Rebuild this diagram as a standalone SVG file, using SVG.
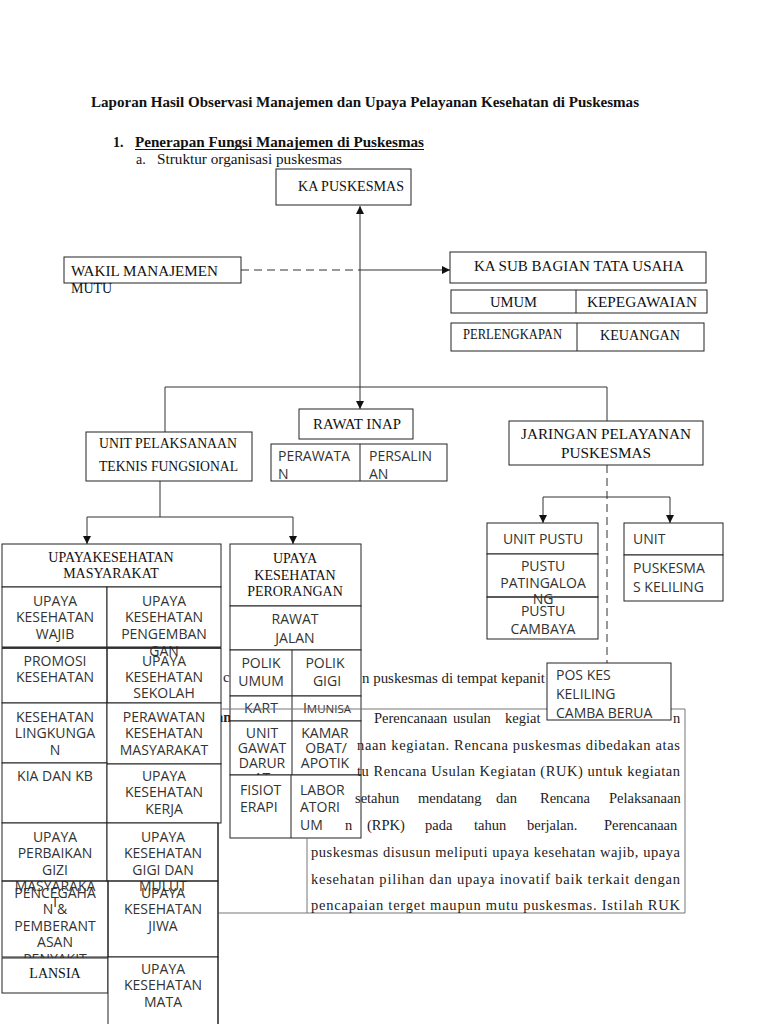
<svg xmlns="http://www.w3.org/2000/svg" width="768" height="1024" viewBox="0 0 768 1024">
<defs>
<marker id="ar" viewBox="0 0 10 10" refX="10" refY="5" markerWidth="8" markerHeight="8" orient="auto" markerUnits="userSpaceOnUse"><path d="M0,0 L10,5 L0,10 z" fill="#111"/></marker>
<style>
.b{fill:#fff;stroke:#222;stroke-width:1}
.o{fill:none;stroke:#222;stroke-width:1}
.d{stroke:#222;stroke-width:1}
.s{font-family:"Liberation Serif","Times New Roman",serif;fill:#111;font-size:14px}
.a{font-family:"Open Sans","Noto Sans",sans-serif;fill:#333;font-size:14px}
.m{text-anchor:middle}
.p{font-family:"Liberation Serif","Times New Roman",serif;fill:#222;font-size:14.5px}
.cn{fill:none;stroke:#333;stroke-width:1}
</style>
</defs>
<rect width="768" height="1024" fill="#fff"/>

<g id="heading">
<text class="s" x="91" y="107" font-weight="bold" font-size="15" textLength="548" lengthAdjust="spacingAndGlyphs">Laporan Hasil Observasi Manajemen dan Upaya Pelayanan Kesehatan di Puskesmas</text>
<text class="s" x="113" y="147" font-weight="bold">1.</text>
<text class="s" x="135" y="147" font-weight="bold" textLength="289" lengthAdjust="spacingAndGlyphs">Penerapan Fungsi Manajemen di Puskesmas</text>
<line x1="135" y1="149.5" x2="424" y2="149.5" stroke="#111" stroke-width="1"/>
<text class="s" x="136" y="164" font-size="13">a.</text>
<text class="s" x="157" y="164" font-size="13" textLength="185" lengthAdjust="spacingAndGlyphs">Struktur organisasi puskesmas</text>
</g>

<g id="connectors">
<line class="cn" x1="360" y1="300" x2="360" y2="206" marker-end="url(#ar)"/>
<line class="cn" x1="360" y1="300" x2="360" y2="409" marker-end="url(#ar)"/>
<line class="cn" x1="241" y1="270" x2="360" y2="270" stroke-dasharray="8,5"/>
<line class="cn" x1="360" y1="270" x2="450" y2="270" marker-end="url(#ar)"/>
<path class="cn" d="M165,432 V387 H607 V421"/>
<path class="cn" d="M160,481 V517"/>
<path class="cn" d="M160,517 H87 V544" marker-end="url(#ar)"/>
<path class="cn" d="M160,517 H293 V544" marker-end="url(#ar)"/>
<line class="cn" x1="607" y1="465" x2="607" y2="663" stroke-dasharray="8,5"/>
<path class="cn" d="M607,497 H543 V523" marker-end="url(#ar)"/>
<path class="cn" d="M607,497 H670 V523" marker-end="url(#ar)"/>
</g>

<g id="ka-puskesmas">
<rect class="b" x="276" y="169" width="135" height="36"/>
<text class="s" x="298" y="191" textLength="106" lengthAdjust="spacingAndGlyphs">KA  PUSKESMAS</text>
</g>
<g id="wakil">
<rect class="b" x="64" y="257" width="177" height="26"/>
<text class="s" x="71" y="276" textLength="147" lengthAdjust="spacingAndGlyphs">WAKIL MANAJEMEN</text>
<text class="s" x="71" y="293">MUTU</text>
</g>
<g id="ka-sub">
<rect class="b" x="450" y="252" width="256" height="31"/>
<text class="s" x="474" y="271" textLength="210" lengthAdjust="spacingAndGlyphs">KA SUB BAGIAN TATA USAHA</text>
</g>
<g id="umum">
<rect class="b" x="451" y="290" width="256" height="23"/>
<line class="d" x1="576" y1="290" x2="576" y2="313"/>
<text class="s" x="490" y="307" textLength="47" lengthAdjust="spacingAndGlyphs">UMUM</text>
<text class="s" x="587" y="307" textLength="110" lengthAdjust="spacingAndGlyphs">KEPEGAWAIAN</text>
</g>
<g id="perlengkapan">
<rect class="b" x="451" y="323" width="253" height="28"/>
<line class="d" x1="577" y1="323" x2="577" y2="351"/>
<text class="s" x="463" y="339" font-size="12" textLength="99" lengthAdjust="spacingAndGlyphs">PERLENGKAPAN</text>
<text class="s" x="600" y="340" textLength="80" lengthAdjust="spacingAndGlyphs">KEUANGAN</text>
</g>

<g id="rawat-inap">
<rect class="b" x="299" y="409" width="114" height="30"/>
<text class="s" x="313" y="429" textLength="88" lengthAdjust="spacingAndGlyphs">RAWAT INAP</text>
</g>
<g id="perawatan">
<rect class="b" x="271" y="444" width="176" height="37"/>
<line class="d" x1="360" y1="444" x2="360" y2="481"/>
<text class="a" x="278" y="461" font-size="13">PERAWATA</text>
<text class="a" x="278" y="479" font-size="13">N</text>
<text class="a" x="369" y="461" font-size="13">PERSALIN</text>
<text class="a" x="369" y="479" font-size="13">AN</text>
</g>
<g id="unit-pelaksanaan">
<rect class="b" x="86" y="432" width="166" height="49"/>
<text class="s" x="99" y="448" textLength="138" lengthAdjust="spacingAndGlyphs">UNIT PELAKSANAAN</text>
<text class="s" x="99" y="471" textLength="139" lengthAdjust="spacingAndGlyphs">TEKNIS FUNGSIONAL</text>
</g>
<g id="jaringan">
<rect class="b" x="509" y="421" width="194" height="44"/>
<text class="s" x="521" y="439" textLength="170" lengthAdjust="spacingAndGlyphs">JARINGAN PELAYANAN</text>
<text class="s" x="561" y="458" textLength="90" lengthAdjust="spacingAndGlyphs">PUSKESMAS</text>
</g>

<g id="fragments">
<text class="p" x="223" y="682" fill="#555">c</text>
<text class="p" x="216" y="722" font-weight="bold">an</text>
</g>

<g id="ukm">
<rect class="b" x="2" y="544" width="219" height="43"/>
<text class="s m" x="111" y="562" font-size="13.5">UPAYAKESEHATAN</text>
<text class="s m" x="111" y="578" font-size="13.5">MASYARAKAT</text>
</g>
<g id="ukm-wajib">
<rect class="b" x="2" y="587" width="105" height="60"/>
<text class="a m" x="55" y="606">UPAYA</text><text class="a m" x="55" y="622">KESEHATAN</text><text class="a m" x="55" y="639">WAJIB</text>
</g>
<g id="ukm-pengembangan">
<rect class="b" x="107" y="587" width="114" height="60"/>
<text class="a m" x="164" y="606">UPAYA</text><text class="a m" x="164" y="622">KESEHATAN</text><text class="a m" x="164" y="639">PENGEMBAN</text><text class="a m" x="164" y="656">GAN</text>
</g>
<g id="promosi">
<rect class="b" x="2" y="648" width="105" height="55"/>
<text class="a m" x="55" y="666">PROMOSI</text><text class="a m" x="55" y="682">KESEHATAN</text>
</g>
<g id="sekolah">
<rect class="o" x="107" y="648" width="114" height="55"/>
<line x1="2" y1="648" x2="221" y2="648" stroke="#222" stroke-width="1.5"/>
<text class="a m" x="164" y="666">UPAYA</text><text class="a m" x="164" y="682">KESEHATAN</text><text class="a m" x="164" y="698">SEKOLAH</text>
</g>
<g id="lingkungan">
<rect class="b" x="2" y="703" width="105" height="60"/>
<text class="a m" x="55" y="722">KESEHATAN</text><text class="a m" x="55" y="738">LINGKUNGA</text><text class="a m" x="55" y="755">N</text>
</g>
<g id="perkesmas">
<rect class="b" x="107" y="703" width="114" height="61"/>
<text class="a m" x="164" y="722">PERAWATAN</text><text class="a m" x="164" y="738">KESEHATAN</text><text class="a m" x="164" y="755">MASYARAKAT</text>
</g>
<g id="kia">
<rect class="b" x="2" y="763" width="105" height="60"/>
<text class="a m" x="55" y="781">KIA DAN KB</text>
</g>
<g id="kerja">
<rect class="b" x="107" y="764" width="114" height="59"/>
<text class="a m" x="164" y="781">UPAYA</text><text class="a m" x="164" y="797">KESEHATAN</text><text class="a m" x="164" y="814">KERJA</text>
</g>
<g id="gizi">
<rect class="b" x="2" y="823" width="105" height="58"/>
<text class="a m" x="55" y="842">UPAYA</text><text class="a m" x="55" y="858">PERBAIKAN</text><text class="a m" x="55" y="875">GIZI</text><text class="a m" x="55" y="891">MASYARAKA</text><text class="a m" x="55" y="907">T</text>
</g>
<g id="gigi">
<rect class="b" x="107" y="823" width="111" height="58"/>
<text class="a m" x="163" y="842">UPAYA</text><text class="a m" x="163" y="858">KESEHATAN</text><text class="a m" x="163" y="875">GIGI DAN</text><text class="a m" x="163" y="891">MULUT</text>
</g>
<g id="pencegahan">
<rect class="o" x="2" y="881" width="106" height="76"/>
<text class="a m" x="55" y="898">PENCEGAHA</text><text class="a m" x="55" y="914">N &amp;</text><text class="a m" x="55" y="931">PEMBERANT</text><text class="a m" x="55" y="947">ASAN</text><text class="a m" x="55" y="964">PENYAKIT</text>
</g>
<g id="jiwa">
<rect class="o" x="108" y="881" width="110" height="76"/>
<text class="a m" x="163" y="898">UPAYA</text><text class="a m" x="163" y="914">KESEHATAN</text><text class="a m" x="163" y="931">JIWA</text>
</g>
<g id="lansia">
<rect class="b" x="2" y="958" width="106" height="35"/>
<text class="s m" x="55" y="978" font-size="15">LANSIA</text>
</g>
<g id="mata">
<rect class="b" x="108" y="957" width="110" height="80"/>
<text class="a m" x="163" y="974">UPAYA</text><text class="a m" x="163" y="990">KESEHATAN</text><text class="a m" x="163" y="1007">MATA</text>
</g>

<g id="ukp">
<rect class="b" x="230" y="544" width="131" height="62"/>
<text class="s m" x="295" y="563">UPAYA</text><text class="s m" x="295" y="580">KESEHATAN</text><text class="s m" x="295" y="596">PERORANGAN</text>
</g>
<g id="rawat-jalan">
<rect class="b" x="230" y="606" width="131" height="44"/>
<text class="a m" x="295" y="624" font-size="15">RAWAT</text><text class="a m" x="295" y="643" font-size="15">JALAN</text>
</g>
<g id="polik">
<rect class="b" x="230" y="650" width="131" height="46"/>
<line class="d" x1="292" y1="650" x2="292" y2="696"/>
<text class="a m" x="261" y="668">POLIK</text><text class="a m" x="261" y="686">UMUM</text>
<text class="a m" x="325" y="668">POLIK</text><text class="a m" x="327" y="686">GIGI</text>
</g>
<g id="kart">
<rect class="b" x="230" y="696" width="131" height="25"/>
<line class="d" x1="292" y1="696" x2="292" y2="721"/>
<text class="a m" x="261" y="713">KART</text>
<text class="a m" x="327" y="713"><tspan>I</tspan><tspan font-size="11.5">MUNISA</tspan></text>
</g>
<g id="ugd">
<rect class="b" x="230" y="721" width="131" height="54"/>
<line class="d" x1="292" y1="721" x2="292" y2="775"/>
<text class="a m" x="262" y="738" font-size="12.5">UNIT</text><text class="a m" x="262" y="753" font-size="12.5">GAWAT</text><text class="a m" x="262" y="768" font-size="12.5">DARUR</text><text class="a m" x="262" y="783" font-size="12.5">AT</text>
<text class="a m" x="325" y="738" font-size="12.5">KAMAR</text><text class="a m" x="326" y="753" font-size="12.5">OBAT/</text><text class="a m" x="325" y="768" font-size="12.5">APOTIK</text>
</g>
<g id="fisio">
<rect class="b" x="230" y="775" width="131" height="63"/>
<line class="d" x1="291" y1="775" x2="291" y2="838"/>
<text class="a" x="240" y="795">FISIOT</text><text class="a" x="240" y="812">ERAPI</text>
<text class="a" x="300" y="795">LABOR</text><text class="a" x="300" y="812">ATORI</text><text class="a" x="300" y="830">UM</text>
</g>

<g id="paragraph">
<line x1="221" y1="709" x2="685" y2="709" stroke="#777" stroke-width="1"/>
<line x1="685" y1="709" x2="685" y2="913" stroke="#777" stroke-width="1"/>
<line x1="218" y1="913" x2="685" y2="913" stroke="#777" stroke-width="1"/>
<line x1="307" y1="838" x2="307" y2="913" stroke="#777" stroke-width="1"/>
<line x1="218" y1="823" x2="218" y2="1024" stroke="#222" stroke-width="1"/>
<text class="p" x="362" y="683" textLength="183" lengthAdjust="spacingAndGlyphs">n puskesmas di tempat kepanit</text>
<text class="p" y="723"><tspan x="374">Perencanaan</tspan> <tspan x="453">usulan</tspan> <tspan x="505">kegiat</tspan></text>
<text class="p" x="673" y="723">n</text>
<text class="p" x="357" y="750" textLength="323" lengthAdjust="spacing">naan kegiatan. Rencana puskesmas dibedakan atas</text>
<text class="p" x="357" y="776" textLength="323" lengthAdjust="spacing">tu Rencana Usulan Kegiatan (RUK) untuk kegiatan</text>
<text class="p" y="803"><tspan x="355">setahun</tspan> <tspan x="418">mendatang</tspan> <tspan x="496">dan</tspan> <tspan x="540">Rencana</tspan> <tspan x="609">Pelaksanaan</tspan></text>
<text class="p" y="830"><tspan x="345">n</tspan> <tspan x="367">(RPK)</tspan> <tspan x="425">pada</tspan> <tspan x="474">tahun</tspan> <tspan x="527">berjalan.</tspan> <tspan x="604">Perencanaan</tspan></text>
<text class="p" x="311" y="857" textLength="369" lengthAdjust="spacing">puskesmas disusun meliputi upaya kesehatan wajib, upaya</text>
<text class="p" x="311" y="884" textLength="369" lengthAdjust="spacing">kesehatan pilihan dan upaya inovatif baik terkait dengan</text>
<text class="p" x="311" y="910" textLength="369" lengthAdjust="spacing">pencapaian terget maupun mutu puskesmas. Istilah RUK</text>
</g>

<g id="unit-pustu">
<rect class="b" x="487" y="523" width="111" height="31"/>
<text class="a m" x="543" y="544" font-size="16.5">UNIT PUSTU</text>
</g>
<g id="pustu-patingaloang">
<rect class="b" x="487" y="554" width="111" height="43"/>
<text class="a m" x="543" y="571">PUSTU</text><text class="a m" x="543" y="588">PATINGALOA</text><text class="a m" x="543" y="604">NG</text>
</g>
<g id="pustu-cambaya">
<rect class="o" x="487" y="597" width="111" height="42"/>
<text class="a m" x="543" y="616" font-size="16.5">PUSTU</text><text class="a m" x="543" y="634" font-size="16.5">CAMBAYA</text>
</g>
<g id="unit-pusling">
<rect class="b" x="624" y="523" width="99" height="32"/>
<text class="a" x="633" y="544" font-size="16.5">UNIT</text>
<text class="a" x="633" y="566" font-size="16.5">PUSKEL</text>
</g>
<g id="puskesmas-keliling">
<rect class="b" x="624" y="555" width="99" height="46"/>
<text class="a" x="633" y="573" font-size="14.5">PUSKESMA</text><text class="a" x="633" y="592" font-size="14.5">S KELILING</text>
</g>
<g id="pos-kes">
<rect class="b" x="547" y="663" width="124" height="57"/>
<text class="a" x="556" y="680" font-size="15.5">POS KES</text><text class="a" x="556" y="699" font-size="15.5">KELILING</text><text class="a" x="556" y="718" font-size="15.5">CAMBA BERUA</text>
</g>
</svg>
